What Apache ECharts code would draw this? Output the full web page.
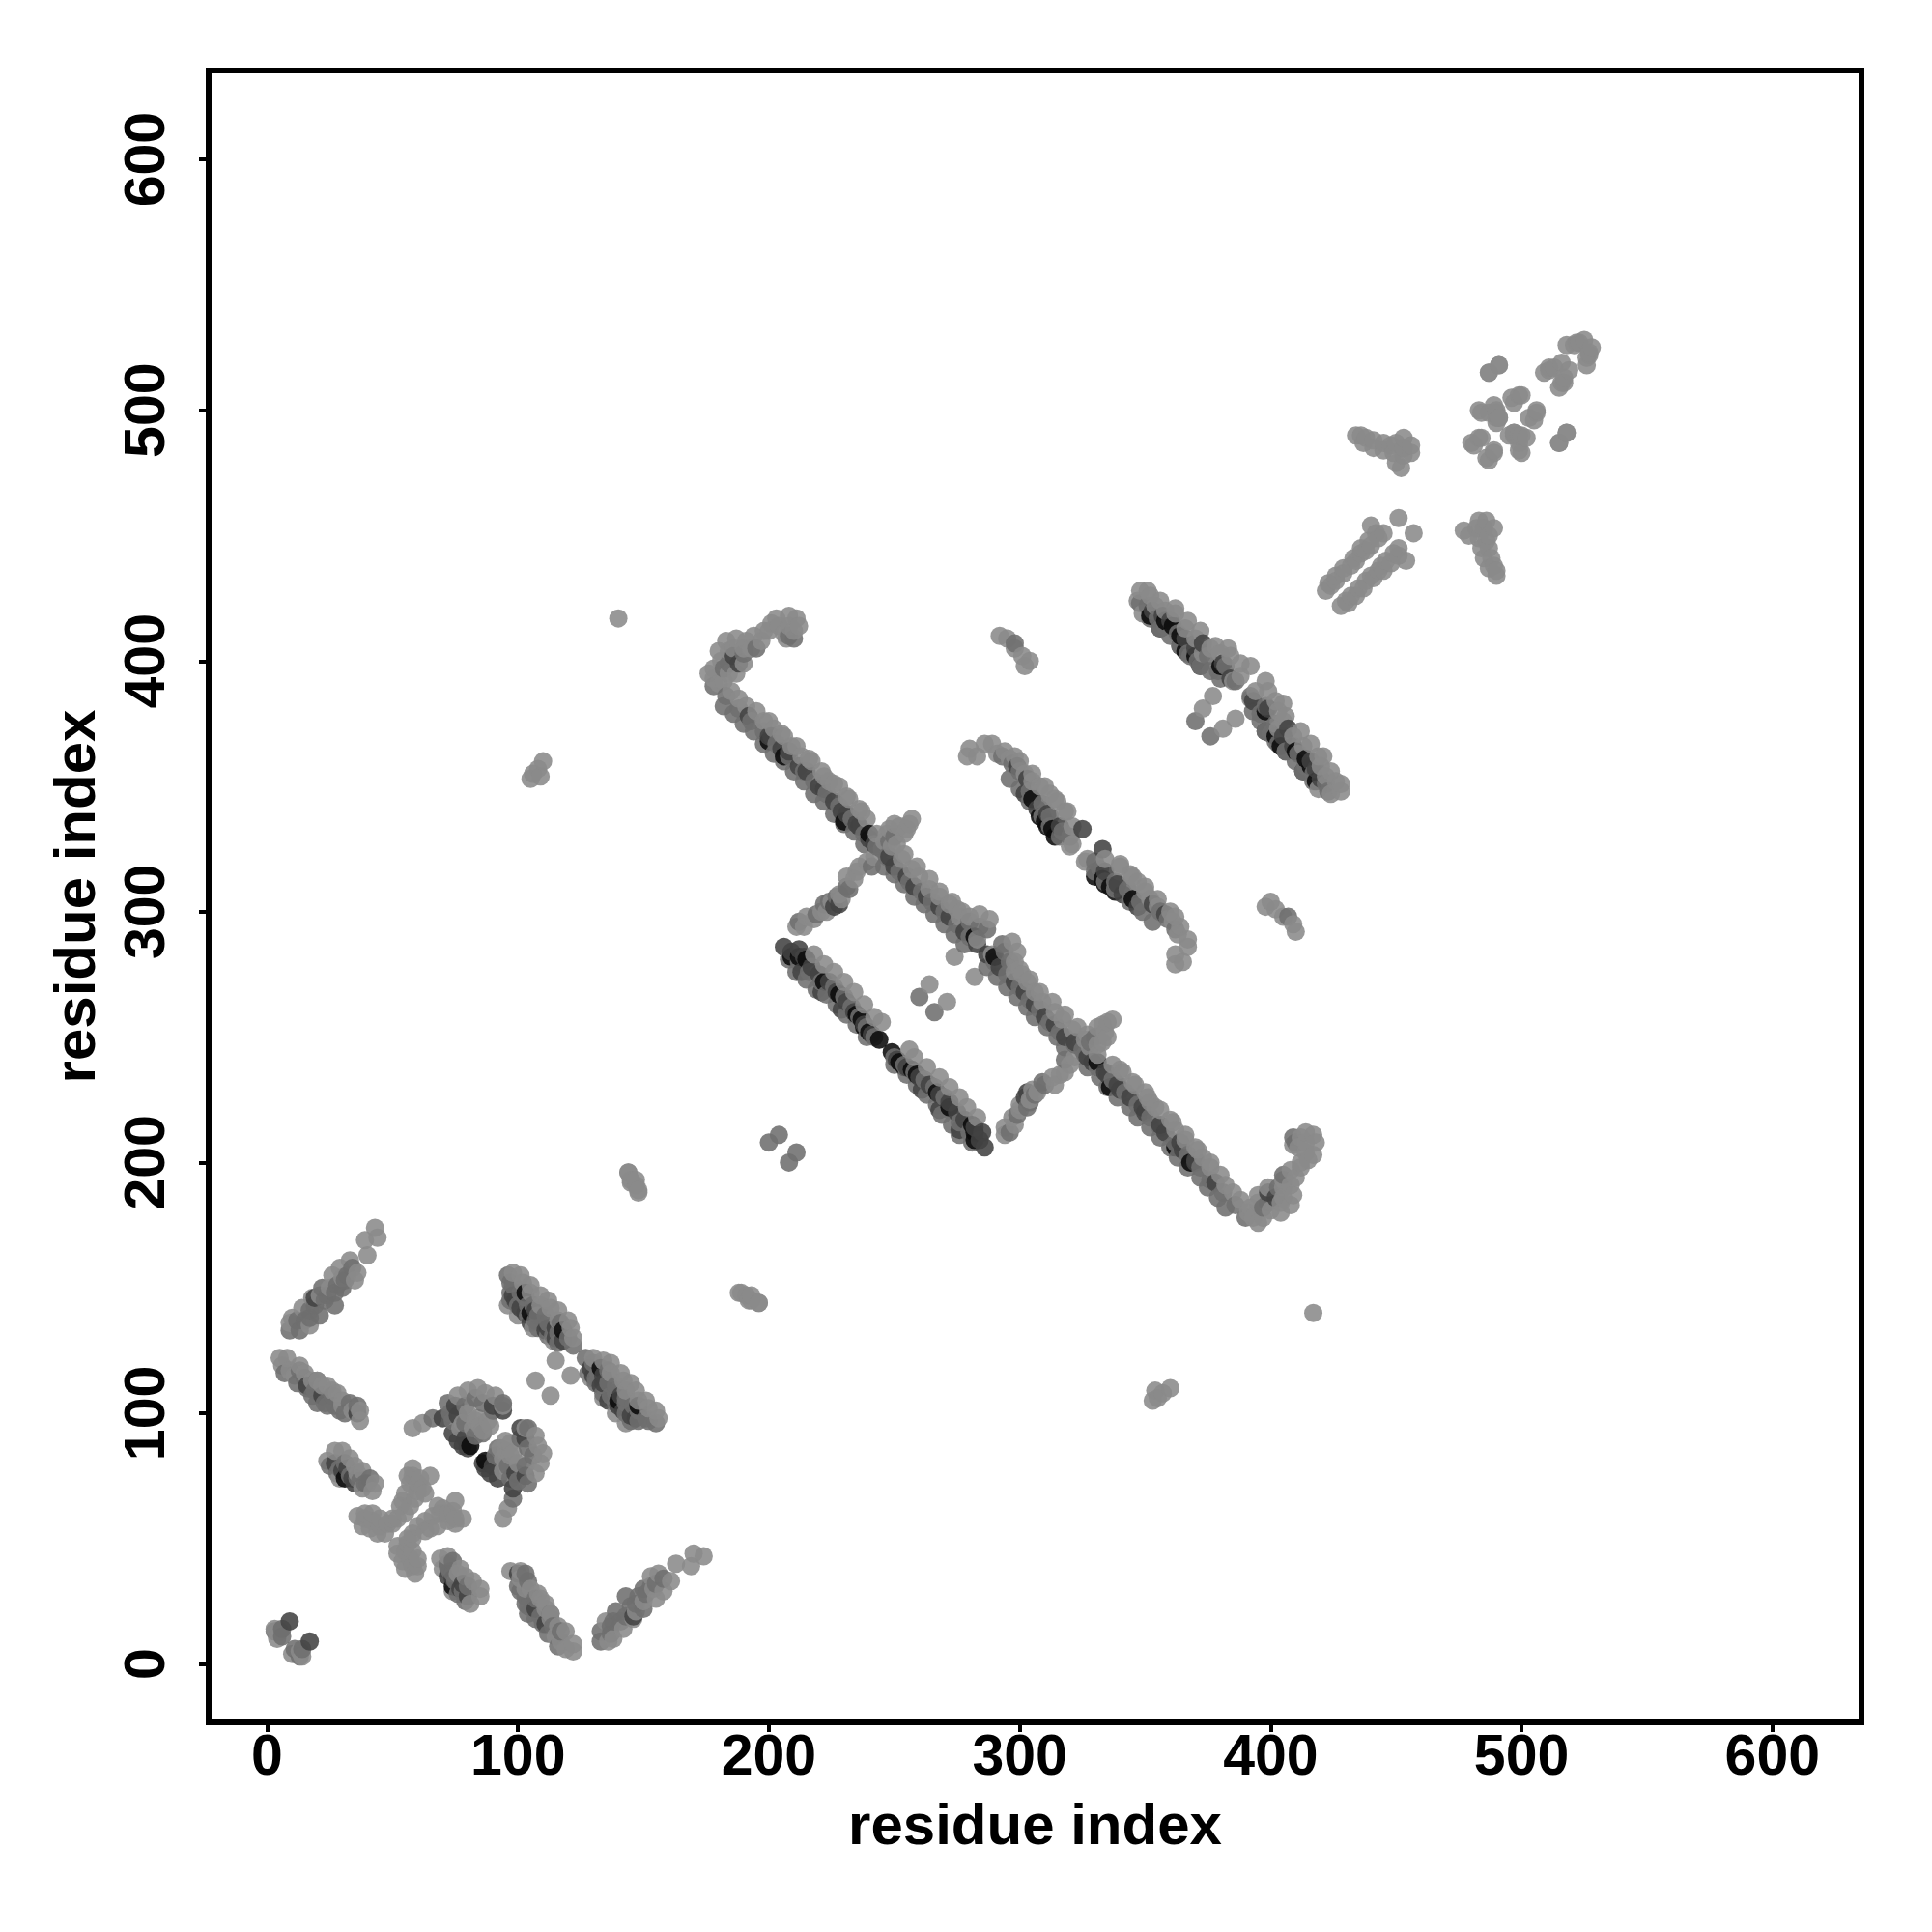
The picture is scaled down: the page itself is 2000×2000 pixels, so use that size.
<!DOCTYPE html>
<html><head><meta charset="utf-8">
<script src="https://cdn.jsdelivr.net/npm/echarts@6/dist/echarts.min.js"></script>
<style>html,body{margin:0;padding:0;background:#fff}#c{width:2000px;height:2000px}</style>
</head><body><div id="c"></div>
<script>
const tickValues=[0,100,200,300,400,500,600];
const xTitle="residue index", yTitle="residue index";
// contacts stored as [i,j], i<j ; the map is symmetric.
const contactsBlack=[[81,87],[118,133],[237,257],[240,252],[310,336],[313,333],[361,414],[364,410],[215,281],[244,249],[228,267],[314,330],[105,140],[103,148],[31,74],[240,331],[230,336],[282,290],[200,368],[206,362],[305,345],[366,404],
[235,259],[238,254],[209,282],[212,282],[222,272],[311,334],[308,338],[358,416],[370,402],[380,398],[352,418]];
const contactsDark=[
[9,17],[75,103],[76,99],[79,90],[98,147],[101,142],[105,136],[112,134],[118,129],[30,77],[35,72],[22,107],[206,286],[209,284],[212,285],[214,282],[217,278],[220,275],[224,272],[227,268],[231,264],[234,260],[238,255],[241,251],[188,399],[186,402],[200,370],[205,365],[212,358],[220,350],[226,344],[231,339],[236,334],[240,329],[250,318],[258,310],[268,302],[278,292],[283,287],[226,302],[228,303],[299,358],[303,353],[307,341],[311,339],[316,334],[325,333],[353,420],[357,418],[360,416],[366,409],[370,405],[373,407],[381,399],[384,393],[70,98],[36,100],
[99,145],[103,140],[107,141],[111,133],[115,134],[27,80],[32,78],[34,74],[213,276],[221,268],[229,261],[302,347],[309,338],[356,413],[364,406],[372,398],
[192,378],[201,370],[208,364],[215,356],[222,349],[229,340],[235,335],[242,327],[248,322],[255,314],[263,306],[272,298],[76,89],[78,87],[80,86],[74,92],[94,101],[90,103],[19,146],[16,111],[115,130]];
const contactsMid=[
[3,13],[6,11],[6,14],[74,97],[72,104],[79,103],[83,106],[86,104],[90,101],[94,104],[73,100],[79,96],[83,91],[86,92],[98,151],[97,145],[100,143],[103,146],[106,143],[107,137],[111,139],[114,131],[117,136],[120,130],[122,127],[96,155],[25,79],[28,76],[31,80],[33,75],[37,73],[39,72],[41,74],[18,107],[20,104],[24,103],[26,107],[29,101],[33,104],[36,103],[13,117],[15,114],[9,133],[15,137],[17,141],[21,139],[24,147],[27,143],[28,151],[31,153],[66,98],[178,390],[183,386],[188,381],[193,376],[198,372],[203,367],[208,362],[214,356],[218,352],[223,347],[228,342],[233,337],[238,331],[243,326],[247,322],[252,316],[256,312],[261,308],[265,304],[270,300],[275,295],[280,290],[182,397],[184,399],[190,403],[195,405],[208,410],[210,409],[212,296],[219,299],[222,303],[231,310],[248,328],[250,330],[208,281],[212,280],[216,276],[221,272],[226,270],[230,266],[233,262],[236,258],[239,254],[242,250],[260,266],[280,296],[284,294],[287,293],[293,362],[297,359],[300,356],[304,348],[309,343],[312,338],[317,332],[320,330],[348,423],[351,422],[355,417],[358,414],[363,411],[367,403],[371,400],[375,402],[379,396],[382,398],[386,392],[370,376],[200,208],[204,211],[298,407],[20,113],
[182,382],[186,379],[190,375],[194,372],[198,367],[202,363],[206,360],[210,356],[214,352],[218,347],[222,344],[226,339],[230,335],[234,332],[238,327],[246,318],[250,315],[254,311],[258,306],[262,303],[266,299],[270,295],[274,291],[278,287],
[211,276],[215,273],[219,269],[223,267],[227,263],[231,259],[235,255],[239,250],
[296,353],[300,349],[304,344],[309,338],[312,334],[316,330],
[352,417],[356,413],[360,410],[364,406],[368,402],[372,398],[376,396],[380,393],
[97,148],[97,152],[101,148],[104,143],[104,139],[108,139],[108,134],[112,136],[112,131],[116,132],[116,128],
[12,137],[13,133],[17,138],[19,143],[23,145],[22,150],[27,148],[30,150],[32,155],[34,158],
[7,116],[12,112],[16,110],[19,109],[23,104],[27,103],[31,100],
[29,78],[36,74],[40,72],[224,304],[227,306],[232,309],[241,318],[245,325]];
const contactsLight=[
[3,14],[4,10],[5,13],[58,94],[62,96],[76,107],[80,109],[84,110],[87,108],[91,107],[94,103],[80,100],[84,98],[88,97],[82,94],[86,93],[78,96],[85,95],[89,95],[83,97],[77,94],[98,156],[102,152],[105,148],[109,143],[113,142],[116,137],[121,134],[122,130],[114,129],[106,134],[100,139],[96,143],[115,121],[107,113],[24,81],[27,85],[30,85],[33,82],[35,79],[38,77],[43,72],[42,69],[38,70],[29,74],[36,76],[5,122],[6,119],[8,122],[9,117],[11,115],[15,116],[20,113],[24,111],[28,108],[30,105],[34,101],[37,101],[37,97],[10,138],[9,136],[14,142],[18,146],[17,135],[21,147],[25,150],[26,155],[29,158],[33,161],[36,156],[35,153],[39,169],[40,163],[44,170],[43,174],[36,59],[39,58],[42,57],[45,55],[47,52],[48,56],[58,78],[61,74],[65,75],[57,72],[60,69],[59,66],[57,63],[55,60],[52,58],[50,56],
[38,55],[41,54],[44,52],[45,58],[42,60],[39,60],[56,75],[58,75],[60,72],[62,70],[63,68],[55,68],[54,65],[53,63],[50,58],
[13,119],[18,113],[22,111],[26,109],[30,103],[30,154],
[176,395],[178,393],[180,391],[182,392],[185,388],[188,385],[191,382],[195,380],[198,376],[202,373],[205,371],[209,366],[213,362],[217,360],[221,356],[224,352],[228,350],[232,345],[236,341],[239,337],[243,331],[246,328],[249,326],[253,321],[257,317],[260,314],[264,309],[268,306],[272,303],[276,298],[275,301],[280,298],[284,299],[288,297],[283,289],[180,404],[183,408],[187,409],[191,408],[194,410],[198,412],[201,415],[203,417],[208,418],[211,417],[210,412],[206,411],[212,414],[211,294],[215,298],[225,304],[228,307],[231,314],[235,316],[239,320],[242,322],[248,333],[252,334],[256,335],[254,331],[251,327],[264,271],[274,282],[279,362],[280,365],[283,362],[286,367],[289,367],[291,363],[294,364],[296,361],[298,362],[302,355],[305,352],[308,350],[312,347],[315,344],[319,340],[321,334],[320,326],[321,327],[348,428],[347,424],[351,428],[349,419],[354,422],[358,420],[362,419],[366,413],[370,409],[373,403],[376,405],[380,403],[384,402],[388,399],[392,398],[385,392],[388,394],[373,381],[377,386],[292,410],[295,409],[298,405],[301,402],[302,398],[304,400],
[200,376],[206,370],[211,366],[216,361],[222,354],[226,351],[231,346],[237,340],[254,323],[259,318],[264,313],[268,308],[273,304],[277,300],
[218,283],[222,279],[226,276],[230,272],[234,268],[238,263],[242,258],[245,256],
[300,360],[305,355],[310,350],[314,345],[318,340],
[352,426],[356,424],[362,421],[367,416],[372,412],[378,406],[383,405],
[101,155],[105,151],[109,147],[112,145],[116,141],[120,137],
[214,294],[218,297],[221,300],[223,300],[229,305],[234,313],[236,318],[247,331],[250,335],[257,337],[255,333],
[184,404],[186,405],[190,405],[193,405],[197,408],[200,412],[204,414],[208,414],[207,409],[178,397],[181,400],[184,395],[187,395],[190,399],
[140,417],[105,353],[106,355],[108,357],[110,360],[109,354],[144,196],[145,193],[148,189],[147,191],[188,148],[193,147],[192,145],[196,144],
[422,428],[424,430],[426,432],[429,435],[432,438],[434,440],[436,443],[438,444],[440,446],[443,449],[445,451],[423,431],[426,434],[429,437],[433,441],[436,445],[439,448],[442,451],[440,454],[451,457],
[434,490],[436,490],[438,489],[441,488],[445,487],[448,486],[450,487],[453,489],[456,486],[456,483],[453,482],[452,477],[450,479],[437,487],[441,485],[445,484],[449,483],[453,485],
[487,515],[491,518],[483,500],[487,499],[490,500],[490,497],[489,502],[496,505],[499,506],[491,497],[511,516],[513,517],[516,519],[521,526],[523,527],[525,528],[480,487],[483,489],[486,481],[489,484],[495,490],[497,491],[499,490],[499,484],[503,497],[506,500],[515,509],[517,511],[515,487],[518,491],[526,518],[527,522]];

const shades=['#0a0a0a','#424242','#6e6e6e','#8a8a8a'];
const allContacts=[contactsBlack,contactsDark,contactsMid,contactsLight];
const points=[];
allContacts.forEach((list,level)=>{
  for(const p of list){points.push([p[0],p[1],level]);points.push([p[1],p[0],level]);}
});
points.sort((a,b)=>a[0]-b[0]||a[1]-b[1]);
const chart=echarts.init(document.getElementById('c'),null,{renderer:'canvas'});
const tickFont={fontFamily:'"Liberation Sans"',fontWeight:'bold',fontSize:59,color:'#000'};
const nameFont={fontFamily:'"Liberation Sans"',fontWeight:'bold',fontSize:60,color:'#000'};
function axis(name,gap,labelRotate,labelMargin){
  return {type:'value',min:-23.3,max:635.5,name:name,nameLocation:'middle',nameGap:gap,nameMoveOverlap:false,
    nameTextStyle:nameFont,
    axisLine:{show:false,onZero:false},splitLine:{show:false},
    axisTick:{show:true,length:10,inside:false,lineStyle:{color:'#000',width:4},customValues:tickValues},
    axisLabel:{show:true,rotate:labelRotate,margin:labelMargin,...tickFont,customValues:tickValues}};
}
chart.setOption({
  animation:false,backgroundColor:'#fff',
  grid:{show:true,left:216,top:73,width:1711,height:1710,borderColor:'#000',borderWidth:6,backgroundColor:'#fff',containLabel:false},
  xAxis:axis(xTitle,79,0,8),
  yAxis:axis(yTitle,105,90,33),
  series:[{type:'scatter',data:points,symbol:'circle',symbolSize:19,silent:true,large:false,progressive:0,
    encode:{x:0,y:1},
    itemStyle:{color:p=>shades[p.value[2]],opacity:0.88,borderWidth:0}}]
});
</script></body></html>
